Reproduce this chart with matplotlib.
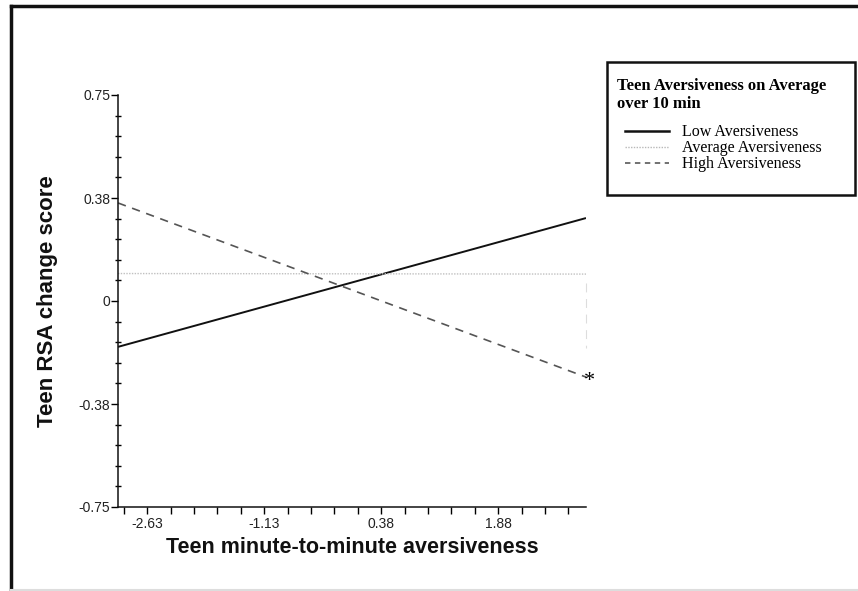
import matplotlib
matplotlib.use("Agg")
import matplotlib.pyplot as plt
from matplotlib.ticker import MultipleLocator, FixedLocator
from matplotlib.lines import Line2D
from matplotlib.patches import Rectangle
from matplotlib.legend_handler import HandlerLine2D

# ---- data ----
x_vals = [-3.0, 3.0]
low_aversiveness = [-0.167, 0.302]
avg_aversiveness = [0.100, 0.098]
high_aversiveness = [0.357, -0.277]
sig_span = [0.066, -0.171]

series_labels = ["Low Aversiveness", "Average Aversiveness", "High Aversiveness"]
legend_title = "Teen Aversiveness on Average\nover 10 min"

y_ticks = [-0.75, -0.375, 0.0, 0.375, 0.75]
y_ticklabels = ["-0.75", "-0.38", "0", "0.38", "0.75"]
x_ticks = [-2.625, -1.125, 0.375, 1.875]
x_ticklabels = ["-2.63", "-1.13", "0.38", "1.88"]

W, H = 858, 591
fig = plt.figure(figsize=(W / 100, H / 100), dpi=100)
ax = fig.add_axes([118 / W, 1 - 507 / H, (586 - 118) / W, (507 - 95) / H])

l1, = ax.plot(x_vals, low_aversiveness, color="#111111", lw=1.4, solid_capstyle="butt")
l2, = ax.plot(x_vals, avg_aversiveness, color="#c0c0c0", lw=1.0, ls=(0, (1, 1)))
l3, = ax.plot(x_vals, high_aversiveness, color="#555555", lw=1.2, ls=(0, (5, 4)))
ax.plot([x_vals[1], x_vals[1]], sig_span, color="#dddddd", lw=0.8, ls=(0, (8, 6)), clip_on=False)
ax.annotate("*", xy=(x_vals[1], high_aversiveness[1]), xytext=(-1.5, -3), textcoords="offset points",
            ha="left", va="center", fontsize=16, family="Liberation Serif", annotation_clip=False)

ax.set_xlim(-3.0, 3.0)
ax.set_ylim(-0.75, 0.75)
for s in ["top", "right"]:
    ax.spines[s].set_visible(False)
for s in ["left", "bottom"]:
    ax.spines[s].set_linewidth(1.1)
    ax.spines[s].set_color("#111111")

ax.yaxis.set_major_locator(FixedLocator(y_ticks))
ax.set_yticklabels(y_ticklabels)
ax.yaxis.set_minor_locator(MultipleLocator(0.075))
ax.xaxis.set_major_locator(FixedLocator(x_ticks))
ax.set_xticklabels(x_ticklabels)
ax.xaxis.set_minor_locator(MultipleLocator(0.3, offset=0.075))

ax.tick_params(axis="y", which="major", direction="out", length=5, width=1, pad=0.5,
               labelsize=10, labelcolor="#222222")
ax.tick_params(axis="y", which="minor", direction="inout", length=5, width=1)
ax.tick_params(axis="x", which="major", direction="out", length=5, width=1, pad=2,
               labelsize=10, labelcolor="#222222")
ax.tick_params(axis="x", which="minor", direction="out", length=5, width=1)
for lab in ax.get_xticklabels() + ax.get_yticklabels():
    lab.set_family("Liberation Sans")

ax.set_xlabel("Teen minute-to-minute aversiveness", fontsize=15.5, fontweight="bold",
              family="Liberation Sans", color="#111111")
ax.set_ylabel("Teen RSA change score", fontsize=16, fontweight="bold",
              family="Liberation Sans", color="#111111")
ax.xaxis.set_label_coords(0.5, -0.072)
ax.yaxis.set_label_coords(-0.128, 0.5)

handles = [
    Line2D([], [], color="#111111", lw=1.8),
    Line2D([], [], color="#b8b8b8", lw=1.0, ls=(0, (1, 1))),
    Line2D([], [], color="#666666", lw=1.3, ls=(0, (3, 2.5))),
]
hmap = {h: HandlerLine2D(xpad=0.5) for h in handles}
leg = fig.legend(handles, series_labels, title=legend_title, handler_map=hmap,
                 loc="upper left", bbox_to_anchor=(607 / W, 1 - 68 / H),
                 frameon=False,
                 prop={"family": "Liberation Serif", "size": 11.5},
                 title_fontproperties={"family": "Liberation Serif", "weight": "bold", "size": 12},
                 alignment="left", handlelength=3.3, handletextpad=0.8,
                 labelspacing=0.0, borderpad=0.6, borderaxespad=0)
leg._legend_box.sep = 9

# legend frame
fig.add_artist(Rectangle((607 / W, 1 - 195 / H), (855 - 607) / W, (195 - 62) / H,
                         transform=fig.transFigure, fill=False, edgecolor="#111111", lw=1.8))

# figure border (left + top dark, bottom faint)
fig.add_artist(Line2D([11 / W, 11 / W], [0, 1 - 6 / H], color="#111111", lw=2.5,
                      transform=fig.transFigure))
fig.add_artist(Line2D([11 / W, 1], [1 - 6 / H, 1 - 6 / H], color="#111111", lw=2.5,
                      transform=fig.transFigure))
fig.add_artist(Line2D([11 / W, 1], [1 / H, 1 / H], color="#dddddd", lw=1.5,
                      transform=fig.transFigure))

fig.savefig("out.png", dpi=100)
